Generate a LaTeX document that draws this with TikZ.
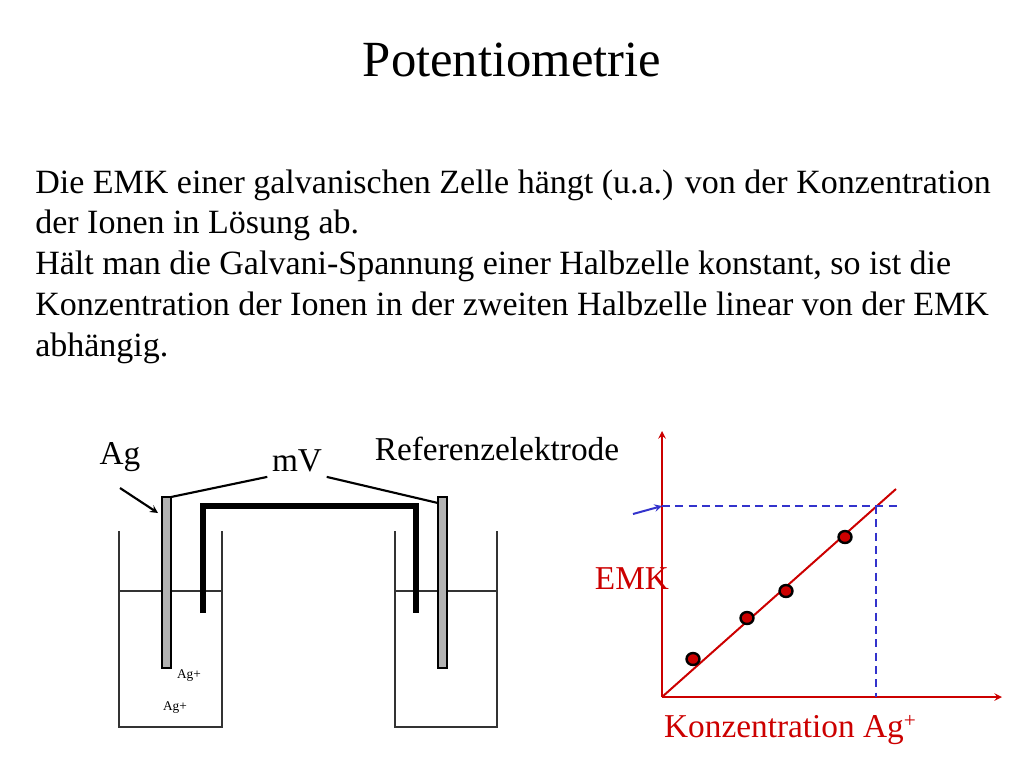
\documentclass[tikz,border=0pt]{standalone}
\usepackage{fontspec}
\setmainfont{Liberation Serif}
\definecolor{emkred}{RGB}{204,0,0}
\definecolor{dashblue}{RGB}{51,51,204}
\tikzset{
  beaker/.style={draw=black!80,line width=1pt},
  electrode/.style={draw=black,fill=black!30,line width=0.8pt},
  wire/.style={line width=1.6pt},
  dot/.style={draw=black,fill=emkred,line width=1.8pt},
  axisline/.style={emkred,line width=1.5pt},
  guide/.style={dashblue,line width=1.5pt,dash pattern=on 6pt off 4pt},
  bodyline/.style={anchor=base west,inner sep=0pt,font=\fontsize{25.5}{30}\selectfont},
  label/.style={font=\fontsize{25}{30}\selectfont}
}
\begin{document}
\begin{tikzpicture}[x=0.75pt,y=-0.75pt]
  \useasboundingbox (0,0) rectangle (1024,768);
  % Title and text
  \node (title) at (512,60) {\fontsize{38}{44}\selectfont Potentiometrie};
  \node[bodyline] (l1) at (35,193) {Die EMK einer galvanischen Zelle hängt (u.a.) von der Konzentration};
  \node[bodyline] (l2) at (35,233) {der Ionen in Lösung ab.};
  \node[bodyline] (l3) at (35,274) {Hält man die Galvani-Spannung einer Halbzelle konstant, so ist die};
  \node[bodyline] (l4) at (35,315) {Konzentration der Ionen in der zweiten Halbzelle linear von der EMK};
  \node[bodyline] (l5) at (35,356) {abhängig.};
  % Beakers
  \draw[beaker] (119,531) |- (222,727) -- (222,531);
  \draw[beaker] (119,591) -- (222,591);
  \draw[beaker] (395,531) |- (497,727) -- (497,531);
  \draw[beaker] (395,591) -- (497,591);
  % Salt bridge
  \draw[line width=4pt] (203,613) |- (416,506) -- (416,613);
  % Electrodes
  \draw[electrode] (162,497) rectangle (171,668);
  \draw[electrode] (438,497) rectangle (447,668);
  \coordinate (agtop) at (171,497);
  \coordinate (reftop) at (438,503);
  % Labels
  \node[label] (mv) at (297,461) {mV};
  \node[label] (ag) at (120,457) {Ag};
  \node[label] (ref) at (497,449) {Referenzelektrode};
  \node (ion1) at (189,676) {\fontsize{10}{12}\selectfont Ag+};
  \node (ion2) at (175,708) {\fontsize{10}{12}\selectfont Ag+};
  \draw[wire] (agtop) -- (mv.south west);
  \draw[wire] (mv.south east) -- (reftop);
  \coordinate (agtip) at (158,513);
  \draw[wire,-stealth] (120,488) -- (agtip);
  % Graph
  \coordinate (o) at (662,697);
  \draw[axisline,-stealth] (o) -- (662,431);
  \draw[axisline,-stealth] (o) -- (1002,697);
  \draw[axisline] (o) -- (896,489);
  \draw[guide] (662,506) -- (897,506);
  \draw[guide] (876,506) -- (876,697);
  \draw[dashblue,line width=1.5pt,-stealth] (633,514) -- (662,506);
  \foreach \px/\py in {693/659,747/618,786/591,845/537}
    \draw[dot] (\px,\py) ellipse (6.5 and 6);
  \node[label,emkred] (emk) at (632,579) {EMK};
  \node[label,emkred] (konz) at (790,730) {Konzentration Ag\raisebox{0.3em}{\fontsize{16}{16}\selectfont +}};
\end{tikzpicture}
\end{document}
